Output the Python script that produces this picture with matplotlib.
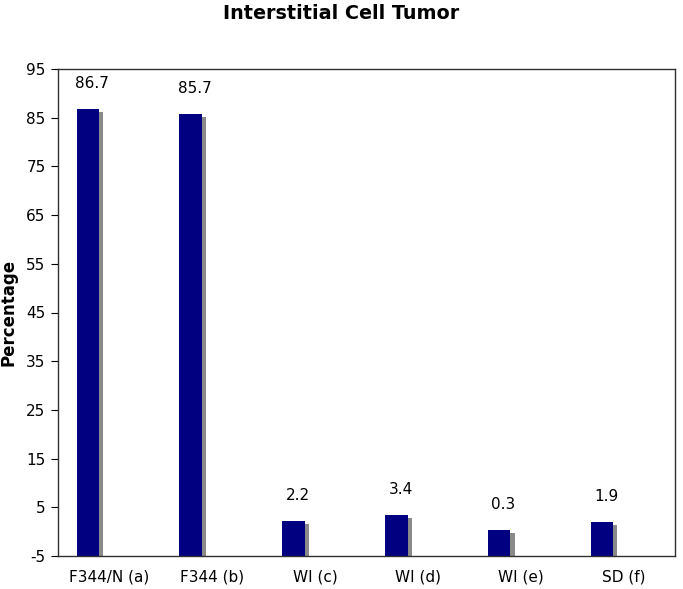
import matplotlib
matplotlib.use("Agg")
import matplotlib.pyplot as plt
import numpy as np

# data
groups = ["F344/N (a)", "F344 (b)", "WI (c)", "WI (d)", "WI (e)", "SD (f)"]
pct = [86.7, 85.7, 2.2, 3.4, 0.3, 1.9]
yticks = [-5, 5, 15, 25, 35, 45, 55, 65, 75, 85, 95]

plt.rcParams['font.family'] = ['DejaVu Sans']
plt.rcParams['axes.unicode_minus'] = False

fig = plt.figure(figsize=(6.83, 5.89), dpi=100)
ax = fig.add_axes([58/683, 1-556/589, 617/683, 487/589])

x = np.arange(len(groups))
base = -5
w = 0.22
xb = x - 0.21
heights = [v - base for v in pct]

# shadow bars, shifted a little right and down
ax.bar(xb + 0.04, heights, width=w, bottom=base - 0.6, color='#8a8a8a', zorder=1)
ax.bar(xb, heights, width=w, bottom=base, color='#000080', zorder=2)

for xi, v in zip(xb, pct):
    ax.annotate(f"{v}", (xi, v), xytext=(3, 13), textcoords='offset points',
                ha='center', va='bottom', fontsize=11)

ax.set_xlim(-0.5, len(groups) - 0.5)
ax.set_ylim(-5, 95)
ax.set_yticks(yticks)
ax.set_xticks(x)
ax.set_xticklabels(groups, fontsize=11)
ax.tick_params(axis='x', length=0, pad=10)
ax.tick_params(axis='y', labelsize=11, length=5, pad=4)
for s in ax.spines.values():
    s.set_color('#303030')
    s.set_linewidth(1)

ax.set_ylabel("Percentage", fontsize=12, fontweight='bold')
ax.yaxis.set_label_coords(-0.066, 0.5)
fig.suptitle("Interstitial Cell Tumor", fontsize=13.8, fontweight='bold', y=0.993)

fig.savefig("out.png", dpi=100)
